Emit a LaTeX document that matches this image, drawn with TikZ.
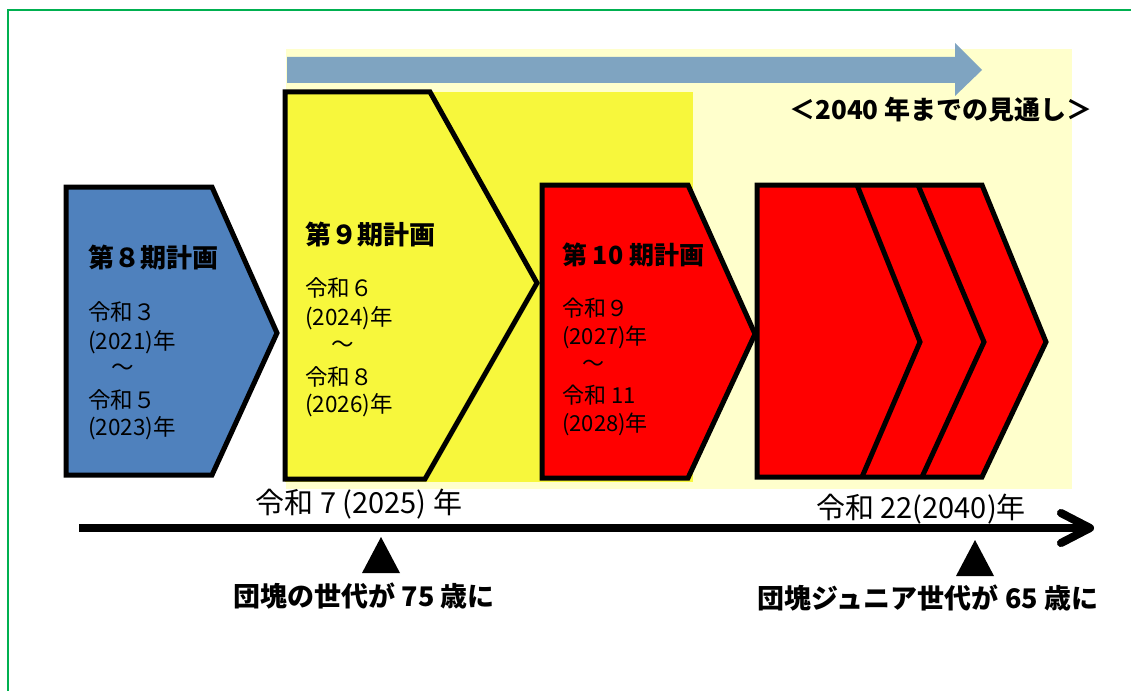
\documentclass[tikz,border=0pt]{standalone}
\usepackage{fontspec}
\setmainfont{Noto Sans CJK JP}
\definecolor{planblue}{HTML}{4F81BD}
\definecolor{planyellow}{HTML}{F7F73C}
\definecolor{paleyellow}{HTML}{FFFFCC}
\definecolor{arrowblue}{HTML}{7FA4C1}
\definecolor{framegreen}{HTML}{00B050}
\definecolor{shadowgray}{HTML}{A6A6A6}
\tikzset{
  planshape/.style={draw=black, line width=5pt, line join=miter},
  titletext/.style={font=\fontsize{26}{30}\selectfont\bfseries, anchor=west, inner sep=0pt},
  bodytext/.style={font=\fontsize{22.5}{29}\selectfont, anchor=west, inner sep=0pt},
  redtext/.style={font=\fontsize{22}{28}\selectfont, anchor=west, inner sep=0pt},
  yeartext/.style={font=\fontsize{29}{32}\selectfont, inner sep=0pt},
  notetext/.style={font=\fontsize{27}{30}\selectfont\bfseries, inner sep=0pt},
  timeline/.style={line width=8pt, line cap=round, line join=round},
  marker/.style={fill=black, draw=none}
}
\begin{document}
\begin{tikzpicture}[x=1pt,y=-1pt]
\useasboundingbox (0,0) rectangle (1131,690);
% frame
\draw[framegreen, line width=2pt] (8,691) -- (8,10) -- (1132,10);
% backgrounds
\fill[paleyellow] (286,49) rectangle (1072,489);
\fill[planyellow] (285,92) rectangle (693,482);
% top arrow
\fill[arrowblue] (287,57) -- (955,57) -- (955,43) -- (982,70) -- (955,96) -- (955,83) -- (287,83) -- cycle;
\node[notetext, font=\fontsize{26}{30}\selectfont\bfseries] (outlook) at (941,110) {＜2040 年までの見通し＞};
% plan 8
\draw[planshape, fill=planblue] (66,187) -- (212,187) -- (277,333) -- (212,475) -- (66,475) -- cycle;
\node[titletext] (b1) at (88,258) {第８期計画};
\node[bodytext] (b2) at (88,312) {令和３};
\node[bodytext] (b3) at (88,342) {(2021)年};
\node[bodytext] (b4) at (111,370) {～};
\node[bodytext] (b5) at (88,400) {令和５};
\node[bodytext] (b6) at (88,428) {(2023)年};
% plan 9
\draw[planshape, fill=planyellow] (285,92) -- (430,92) -- (537,283) -- (425,479) -- (285,479) -- cycle;
\node[titletext] (y1) at (305,235) {第９期計画};
\node[bodytext] (y2) at (305,288) {令和６};
\node[bodytext] (y3) at (305,318) {(2024)年};
\node[bodytext] (y4) at (331,347) {～};
\node[bodytext] (y5) at (305,377) {令和８};
\node[bodytext] (y6) at (305,405) {(2026)年};
% plan 10
\draw[planshape, fill=red] (542,185) -- (688,185) -- (755,334) -- (688,478) -- (542,478) -- cycle;
\node[titletext, font=\fontsize{25}{30}\selectfont\bfseries] (r1) at (562,255) {第 10 期計画};
\node[redtext] (r2) at (562,308) {令和９};
\node[redtext] (r3) at (562,337) {(2027)年};
\node[redtext] (r4) at (582,366) {～};
\node[redtext] (r5) at (562,395) {令和 11};
\node[redtext] (r6) at (562,424) {(2028)年};
% future chevrons
\draw[planshape, fill=red] (757,185) -- (982,185) -- (1046,342) -- (982,477) -- (757,477) -- cycle;
\draw[planshape] (857,185) -- (920,342) -- (862,477);
\draw[planshape] (918,185) -- (984,342) -- (922,477);
% timeline
\coordinate (t0) at (79,528);
\coordinate (t1) at (1090,528);
\coordinate (ha) at (1061,513);
\coordinate (hb) at (1061,543);
\begin{scope}[shift={(3,5)}]
\draw[timeline, shadowgray, line cap=butt] (t0) -- (t1);
\draw[timeline, shadowgray] (ha) -- (t1) -- (hb);
\end{scope}
\draw[timeline, line cap=butt] (t0) -- (t1);
\draw[timeline] (ha) -- (t1) -- (hb);
\node[yeartext] (y2025) at (359,504) {令和 7 (2025) 年};
\node[yeartext] (y2040) at (921,509) {令和 22(2040)年};
\fill[marker] (381,537) -- (400,573) -- (362,573) -- cycle;
\fill[marker] (975,540) -- (994,576) -- (956,576) -- cycle;
\node[notetext] (n1) at (364,596) {団塊の世代が 75 歳に};
\node[notetext] (n2) at (928,598) {団塊ジュニア世代が 65 歳に};
\end{tikzpicture}
\end{document}
